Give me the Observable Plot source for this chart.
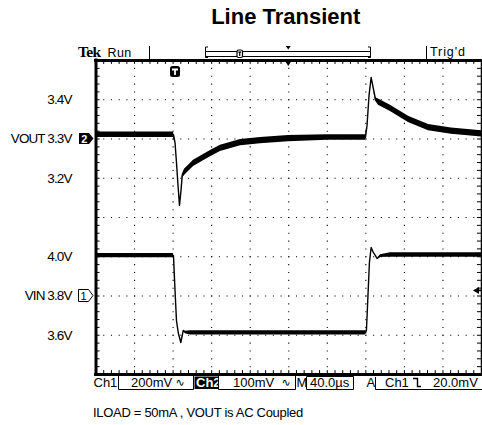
<!DOCTYPE html>
<html><head><meta charset="utf-8">
<script src="https://cdn.jsdelivr.net/npm/d3@7"></script>
<script src="https://cdn.jsdelivr.net/npm/@observablehq/plot@0.6"></script>
<style>
html,body{margin:0;padding:0;background:#fff;overflow:hidden;}
svg text{font-family:"Liberation Sans",Arial,"DejaVu Sans",sans-serif;}
g[aria-label="y-axis tick label"] text{letter-spacing:-0.9px;fill:#000;}
</style></head><body><div id="chart"></div>
<script>
// ---- texts ----
const title = "Line Transient";
const caption = "ILOAD = 50mA , VOUT is AC Coupled";
const statusLeft = "Run";
const statusRight = "Trig'd";
const ch1Label = "Ch1", ch1Scale = "200mV";
const ch2Label = "Ch2", ch2Scale = "100mV";
const timebase = "40.0\u00b5s";
const trigSource = "Ch1", trigLevel = "20.0mV";

// ---- horizontal: time in µs, 40 µs/div, 10 divisions ----
const timeDomain = [0, 400];
const timeDivisions = [0, 40, 80, 120, 160, 200, 240, 280, 320, 360, 400];
const triggerTime = 82.5;
const recordCenter = 200;

// ---- vertical: screen divisions 0..8 ----
const divDomain = [0, 8];
const divLines = [0, 1, 2, 3, 4, 5, 6, 7, 8];
const yTickDivs = [7, 6, 5, 3, 2, 1];
const yTickLabels = ["3.4V", "VOUT 3.3V", "3.2V", "4.0V", "VIN 3.8V", "3.6V"];

// channel settings (reference volts at a screen division, volts per division)
const ch2 = {ref: 3.3, refDiv: 6, perDiv: 0.1};  // VOUT, 100 mV/div
const ch1 = {ref: 3.8, refDiv: 2, perDiv: 0.2};  // VIN, 200 mV/div

// ---- VOUT trace (µs, V, noise half-band V) ----
const voutTime  = [0, 80.4, 82.0, 83.5, 85.1, 86.6, 88.2, 89.4, 91.8, 101.2, 108.4, 118.8, 129.1, 150.0, 170.7, 199.7, 240.2, 279.6, 281.2, 283.3, 285.5, 287.6, 290.0, 293.1, 305.5, 324.2, 345.0, 368.8, 400];
const voutVolts = [3.311, 3.311, 3.291, 3.240, 3.182, 3.131, 3.169, 3.205, 3.215, 3.238, 3.248, 3.263, 3.276, 3.291, 3.296, 3.301, 3.304, 3.304, 3.334, 3.411, 3.457, 3.431, 3.401, 3.394, 3.378, 3.350, 3.329, 3.320, 3.313];
const voutNoise = [0.007, 0.007, 0, 0, 0, 0, 0, 0.004, 0.008, 0.008, 0.008, 0.008, 0.008, 0.008, 0.008, 0.008, 0.007, 0.007, 0, 0, 0, 0, 0.004, 0.008, 0.008, 0.008, 0.008, 0.008, 0.008];

// ---- VIN trace ----
const vinTime  = [0, 80.4, 82.0, 83.5, 85.3, 88.0, 90.5, 92.9, 98.1, 279.6, 280.6, 282.2, 283.7, 285.5, 287.8, 291.8, 295.2, 305.5, 400];
const vinVolts = [4.006, 4.006, 3.828, 3.675, 3.614, 3.563, 3.624, 3.614, 3.612, 3.612, 3.624, 3.803, 3.971, 4.047, 4.022, 3.991, 4.004, 4.009, 4.009];
const vinNoise = [0.011, 0.011, 0, 0, 0, 0, 0, 0.006, 0.011, 0.011, 0, 0, 0, 0, 0, 0, 0.006, 0.011, 0.011];

const toDiv = (ch, v) => ch.refDiv + (v - ch.ref) / ch.perDiv;
const vout = voutTime.map((t, i) => ({t, v: voutVolts[i], n: voutNoise[i]}));
const vin = vinTime.map((t, i) => ({t, v: vinVolts[i], n: vinNoise[i]}));

const minorT = d3.range(0, 400.01, 8);
const minorY = d3.range(0, 8.001, 0.2);

const plot = Plot.plot({
  width: 482, height: 425,
  marginTop: 60, marginBottom: 51, marginLeft: 95.5, marginRight: 1,
  x: {domain: timeDomain, axis: null},
  y: {domain: divDomain},
  style: {background: "white", fontFamily: "Liberation Sans, Arial, sans-serif"},
  marks: [
    // dotted graticule
    Plot.ruleX(timeDivisions.slice(1, -1), {stroke: "black", strokeWidth: 1.1, strokeDasharray: "1.1,6.75"}),
    Plot.ruleY(divLines.slice(1, -1), {stroke: "black", strokeWidth: 1.1, strokeDasharray: "1.1,6.61"}),
    // edge minor ticks
    Plot.ruleX(minorT, {x: d => d, y1: 8, y2: 7.9, stroke: "black", strokeWidth: 1}),
    Plot.ruleX(minorT, {x: d => d, y1: 0, y2: 0.1, stroke: "black", strokeWidth: 1}),
    Plot.ruleY(minorY, {y: d => d, x1: 0, x2: 4.2, stroke: "black", strokeWidth: 1}),
    Plot.ruleY(minorY, {y: d => d, x1: 395.8, x2: 400, stroke: "black", strokeWidth: 1}),
    // frame
    Plot.ruleX([0], {stroke: "black", strokeWidth: 3, strokeLinecap: "square"}),
    Plot.ruleX([400], {stroke: "black", strokeWidth: 1.5}),
    Plot.ruleY([0, 8], {stroke: "black", strokeWidth: 3, strokeLinecap: "square"}),
    // traces: noise envelope + trace line
    Plot.areaY(vout, {x: "t", y1: d => toDiv(ch2, d.v - d.n), y2: d => toDiv(ch2, d.v + d.n), fill: "black"}),
    Plot.line(vout, {x: "t", y: d => toDiv(ch2, d.v), stroke: "black", strokeWidth: 1.4}),
    Plot.areaY(vin, {x: "t", y1: d => toDiv(ch1, d.v - d.n), y2: d => toDiv(ch1, d.v + d.n), fill: "black"}),
    Plot.line(vin, {x: "t", y: d => toDiv(ch1, d.v), stroke: "black", strokeWidth: 1.4}),
    // channel labels
    Plot.axisY(yTickDivs, {
      tickFormat: d => yTickLabels[yTickDivs.indexOf(d)],
      tickSize: 0, tickPadding: 24.5, fontSize: 13.5
    })
  ]
});
document.getElementById("chart").appendChild(plot);

// ---- oscilloscope chrome ----
const X = plot.scale("x"), Y = plot.scale("y");
const sx = v => X.apply(v), sy = v => Y.apply(v);
const svg = d3.select(plot);
const g = svg.append("g").attr("fill", "black").attr("text-anchor", "start");
const txt = (x, y, s, size, extra = {}) => {
  const t = g.append("text").attr("x", x).attr("y", y).attr("font-size", size).attr("text-anchor", "start").text(s);
  for (const k in extra) t.attr(k, extra[k]);
  return t;
};
const path = (d, fill, stroke, sw) => g.append("path").attr("d", d)
  .attr("fill", fill).attr("stroke", stroke || "none").attr("stroke-width", sw || 1);

// title
const midX = (sx(0) + sx(400)) / 2 - 2.5;
txt(midX, 24.3, title, 22, {"font-weight": "bold", "text-anchor": "middle"});

// top status bar
txt(78, 57.3, "Tek", 15.5, {"font-weight": "bold", "style": "font-family:'Liberation Serif','DejaVu Serif',serif;letter-spacing:-0.6px"});
txt(107.5, 56.5, statusLeft, 12.5, {"style": "letter-spacing:0.4px"});
path("M149.5,46V59", "none", "black", 1);
path("M208,47H205.5V57.5H208M368,47H370.5V57.5H368M205.5,51.5H370.5M205.5,56.5H370.5", "none", "black", 1);
g.append("rect").attr("x", 237).attr("y", 50).attr("width", 5.5).attr("height", 7.5).attr("rx", 1.5)
  .attr("fill", "white").attr("stroke", "black").attr("stroke-width", 1.2);
path("M238.3,52.2H241.2M239.75,52.2V56", "none", "black", 1.2);
path(`M${sx(recordCenter) - 2.5},46L${sx(recordCenter) + 2.5},46L${sx(recordCenter)},49.5Z`, "black");
path("M426.5,46V59", "none", "black", 1);
txt(430, 55.5, statusRight, 12.5, {"style": "letter-spacing:0.9px"});

// record trigger-position marker on the frame top
path(`M${sx(recordCenter) - 4.5},59L${sx(recordCenter) + 4.5},59L${sx(recordCenter)},66Z`, "black");

// trigger marker "T"
const tx = sx(triggerTime);
g.append("rect").attr("x", tx - 5).attr("y", 66).attr("width", 10).attr("height", 11).attr("rx", 2.5).attr("fill", "black");
path(`M${tx - 3},69.5H${tx + 3}M${tx},69.5V75`, "none", "white", 1.8);

// channel reference markers
const y2 = sy(ch2.refDiv), y1 = sy(ch1.refDiv);
path(`M79,${y2 - 5.5}H89L93.5,${y2}L89,${y2 + 5.5}H79Z`, "black");
txt(84.3, y2 + 4, "2", 11, {"fill": "white", "font-weight": "bold", "text-anchor": "middle"});
path(`M78.5,${y1 - 6}H88.5L93,${y1}L88.5,${y1 + 6}H78.5Z`, "white", "black", 1);
txt(83.5, y1 + 4, "1", 11, {"text-anchor": "middle"});

// trigger level arrow on right edge
const ly = sy(2.13);
path(`M473,${ly}L479,${ly - 3.5}L479,${ly + 3.5}Z`, "black");
path(`M478,${ly}H482`, "none", "black", 1.6);

// bottom status bar
const by = 386.5;
txt(93.5, by, ch1Label, 13);
path("M118.5,375V389.5H193.5V375", "none", "black", 1);
txt(131, by, ch1Scale, 13);
txt(175.5, by - 0.5, "\u223f", 11, {"style": "font-family:'DejaVu Sans',sans-serif"});
g.append("rect").attr("x", 194.5).attr("y", 376.5).attr("width", 24).attr("height", 12.5).attr("fill", "black");
txt(196, by, ch2Label, 13, {"fill": "white", "font-weight": "bold"});
path("M218.5,375V389.5H295.5V375", "none", "black", 1);
txt(233, by, ch2Scale, 13);
txt(281.5, by - 0.5, "\u223f", 11, {"style": "font-family:'DejaVu Sans',sans-serif"});
txt(296.5, by, "M", 13);
path("M306.5,376.5V389.5H353.5V376.5Z", "none", "black", 1);
txt(310, by, timebase, 13);
txt(366.5, by, "A", 13);
path("M375.5,377V389.5H482", "none", "black", 1);
txt(385, by, trigSource, 13);
path("M413,378.5H417.5V386.5H421", "none", "black", 1.4);
txt(433, by, trigLevel, 13);

// caption
txt(93, 416.5, caption, 13, {"style": "letter-spacing:-0.3px"});
</script>
</body></html>
